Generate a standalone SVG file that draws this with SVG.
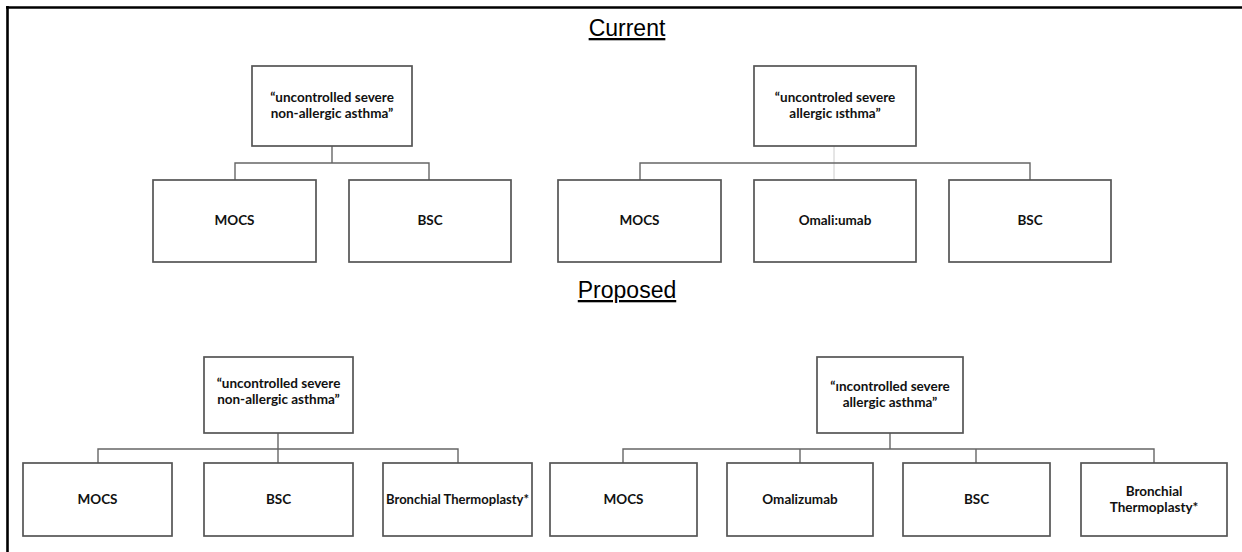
<svg xmlns="http://www.w3.org/2000/svg" width="1242" height="552" viewBox="0 0 1242 552">
<style>
.title{font-family:"Liberation Sans",Arial,sans-serif;font-size:23px;fill:#000;text-anchor:middle;text-decoration:underline}
.box{fill:#fff;stroke:#555;stroke-width:1.7}
.t{font-family:Lato,"Liberation Sans",sans-serif;font-weight:bold;font-size:13.5px;fill:#111;text-anchor:middle}
.c{fill:none;stroke:#666;stroke-width:1.4}
.cl{fill:none;stroke:#ccc;stroke-width:1}
.frame{stroke:#000;stroke-width:2.6;fill:none}
</style>
<rect width="1242" height="552" fill="#fff"/>
<g id="frame">
<line class="frame" x1="6" y1="7.5" x2="1242" y2="7.5"/>
<line class="frame" x1="7.5" y1="6" x2="7.5" y2="552"/>
</g>
<g id="title-current"><text class="title" x="627" y="36">Current</text></g>
<g id="title-proposed"><text class="title" x="627" y="298">Proposed</text></g>
<g id="connectors">
<polyline class="c" points="332,146 332,163"/>
<polyline class="c" points="235,180 235,163 429,163 429,180"/>
<line class="cl" x1="834" y1="146" x2="834" y2="180"/>
<polyline class="c" points="640,180 640,163 1030,163 1030,180"/>
<polyline class="c" points="278,433 278,463"/>
<polyline class="c" points="98,463 98,449 458,449 458,463"/>
<polyline class="c" points="890,433 890,449"/>
<polyline class="c" points="623,463 623,449 1154,449 1154,463"/>
<line class="c" x1="800" y1="449" x2="800" y2="463"/>
<line class="c" x1="976" y1="449" x2="976" y2="463"/>
</g>
<g id="cur-root-nonallergic"><rect class="box" x="252" y="66" width="160" height="80"/><text class="t" x="332" y="102">“uncontrolled severe</text><text class="t" x="332" y="118">non-allergic asthma”</text></g>
<g id="cur-root-allergic"><rect class="box" x="754" y="66" width="162" height="80"/><text class="t" x="835" y="102">“uncontroled severe</text><text class="t" x="835" y="118">allergic ısthma”</text></g>
<g id="cur-l-mocs"><rect class="box" x="153" y="180" width="163" height="82"/><text class="t" x="234.5" y="225">MOCS</text></g>
<g id="cur-l-bsc"><rect class="box" x="349" y="180" width="162" height="82"/><text class="t" x="430" y="225">BSC</text></g>
<g id="cur-r-mocs"><rect class="box" x="558" y="180" width="163" height="82"/><text class="t" x="639.5" y="225">MOCS</text></g>
<g id="cur-r-omal"><rect class="box" x="754" y="180" width="162" height="82"/><text class="t" x="835" y="225">Omali:umab</text></g>
<g id="cur-r-bsc"><rect class="box" x="949" y="180" width="162" height="82"/><text class="t" x="1030" y="225">BSC</text></g>
<g id="pro-root-nonallergic"><rect class="box" x="204" y="357" width="149" height="76"/><text class="t" x="278.5" y="388">“uncontrolled severe</text><text class="t" x="278.5" y="404">non-allergic asthma”</text></g>
<g id="pro-root-allergic"><rect class="box" x="817" y="357" width="146" height="76"/><text class="t" x="890" y="391">“ıncontrolled severe</text><text class="t" x="890" y="407">allergic asthma”</text></g>
<g id="pro-l-mocs"><rect class="box" x="23" y="463" width="149" height="73"/><text class="t" x="97.5" y="504">MOCS</text></g>
<g id="pro-l-bsc"><rect class="box" x="204" y="463" width="149" height="73"/><text class="t" x="278.5" y="504">BSC</text></g>
<g id="pro-l-bt"><rect class="box" x="383" y="463" width="149" height="73"/><text class="t" x="457.5" y="504" textLength="143" lengthAdjust="spacingAndGlyphs">Bronchial Thermoplasty*</text></g>
<g id="pro-r-mocs"><rect class="box" x="550" y="463" width="147" height="73"/><text class="t" x="623.5" y="504">MOCS</text></g>
<g id="pro-r-omal"><rect class="box" x="727" y="463" width="146" height="73"/><text class="t" x="800" y="504">Omalizumab</text></g>
<g id="pro-r-bsc"><rect class="box" x="903" y="463" width="147" height="73"/><text class="t" x="976.5" y="504">BSC</text></g>
<g id="pro-r-bt"><rect class="box" x="1081" y="463" width="146" height="73"/><text class="t" x="1154" y="496">Bronchial</text><text class="t" x="1154" y="512">Thermoplasty*</text></g>
</svg>
